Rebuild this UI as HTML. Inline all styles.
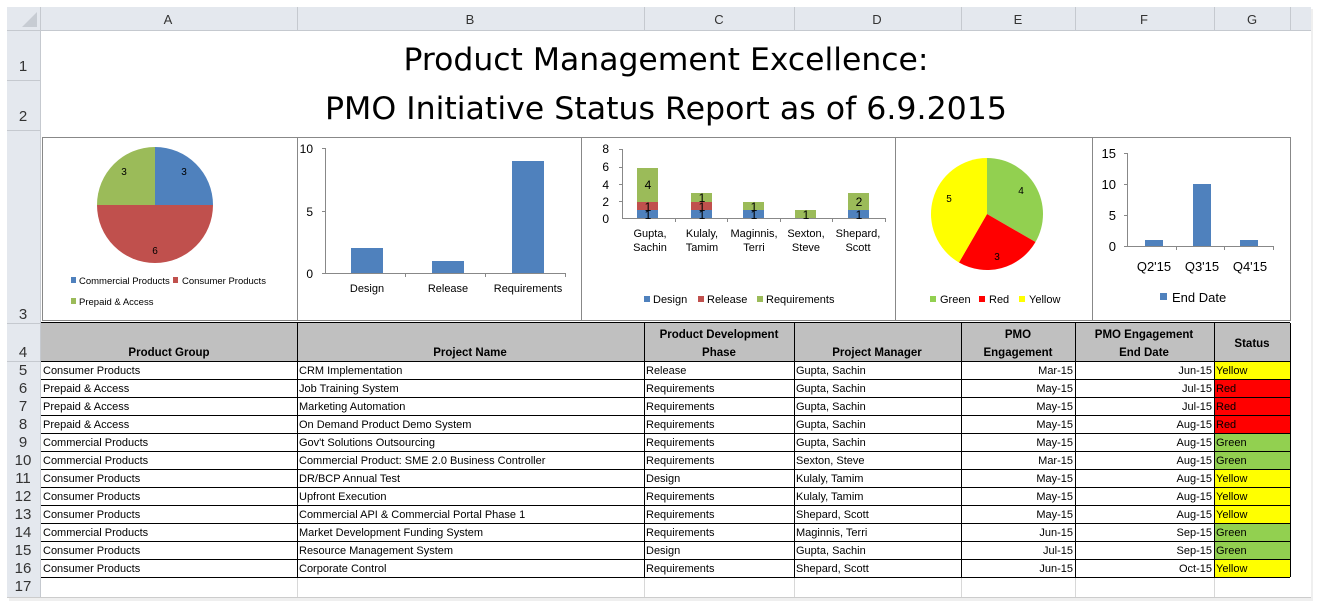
<!DOCTYPE html>
<html><head><meta charset="utf-8"><style>
html,body{margin:0;padding:0;background:#fff;}
svg{display:block;font-family:"Liberation Sans",sans-serif;}
</style></head><body>
<svg width="1319" height="611" viewBox="0 0 1319 611" xmlns="http://www.w3.org/2000/svg">
<rect x="0" y="0" width="1319" height="611" fill="#fff"/>
<rect x="9" y="9" width="1304" height="592" fill="#e0e0e0" opacity="0.5"/>
<rect x="7" y="7" width="1304" height="590" fill="#fff"/>
<!-- column header -->
<rect x="7" y="7" width="1304" height="23" fill="#e4e8ee"/>
<rect x="7" y="7" width="33" height="590" fill="#e4e8ee"/>
<polygon points="37,12 37,27 22,27" fill="#c7ccd3"/>
<g stroke="#c5c9cf" stroke-width="1">
<line x1="297.5" y1="7" x2="297.5" y2="30"/><line x1="644.5" y1="7" x2="644.5" y2="30"/>
<line x1="794.5" y1="7" x2="794.5" y2="30"/><line x1="961.5" y1="7" x2="961.5" y2="30"/>
<line x1="1075.5" y1="7" x2="1075.5" y2="30"/><line x1="1214.5" y1="7" x2="1214.5" y2="30"/>
<line x1="1290.5" y1="7" x2="1290.5" y2="30"/>
<line x1="7" y1="30.5" x2="1311" y2="30.5"/>
<line x1="40.5" y1="7" x2="40.5" y2="597"/>
<line x1="7" y1="80.5" x2="40" y2="80.5"/><line x1="7" y1="130.5" x2="40" y2="130.5"/>
<line x1="7" y1="323.5" x2="40" y2="323.5"/><line x1="7" y1="361.5" x2="40" y2="361.5"/>
</g>
<g font-size="13" fill="#333" text-anchor="middle">
<text x="168" y="24">A</text><text x="470" y="24">B</text><text x="719" y="24">C</text>
<text x="877" y="24">D</text><text x="1018" y="24">E</text><text x="1144" y="24">F</text><text x="1252" y="24">G</text>
</g>
<g font-size="15" fill="#333" text-anchor="middle">
<text x="23" y="71">1</text><text x="23" y="121">2</text><text x="23" y="319">3</text><text x="23" y="357">4</text>
<text x="23" y="375">5</text><text x="23" y="393">6</text><text x="23" y="411">7</text><text x="23" y="429">8</text>
<text x="23" y="447">9</text><text x="23" y="465">10</text><text x="23" y="483">11</text><text x="23" y="501">12</text>
<text x="23" y="519">13</text><text x="23" y="537">14</text><text x="23" y="555">15</text><text x="23" y="573">16</text>
<text x="23" y="591">17</text>
</g>
<!-- title -->
<g font-size="31" fill="#000" text-anchor="middle" font-family="'DejaVu Sans','Liberation Sans',sans-serif">
<text x="666" y="70" textLength="525" lengthAdjust="spacingAndGlyphs">Product Management Excellence:</text>
<text x="666" y="119" textLength="682" lengthAdjust="spacingAndGlyphs">PMO Initiative Status Report as of 6.9.2015</text>
</g>
<!-- chart boxes -->
<g fill="none" stroke="#888" stroke-width="1">
<rect x="42.5" y="137.5" width="1248" height="183"/>
<line x1="297.5" y1="137" x2="297.5" y2="321"/>
<line x1="581.5" y1="137" x2="581.5" y2="321"/>
<line x1="895.5" y1="137" x2="895.5" y2="321"/>
<line x1="1092.5" y1="137" x2="1092.5" y2="321"/>
</g>
<!-- pie 1 -->
<path d="M155,205 L155,147 A58,58 0 0 1 213,205 Z" fill="#4f81bd"/>
<path d="M155,205 L213,205 A58,58 0 0 1 97,205 Z" fill="#c0504d"/>
<path d="M155,205 L97,205 A58,58 0 0 1 155,147 Z" fill="#9bbb59"/>
<g font-size="10" fill="#000" text-anchor="middle"><text x="124" y="175">3</text><text x="184" y="175">3</text><text x="155" y="254">6</text></g>
<g font-size="9.5" fill="#000">
<rect x="71" y="277" width="5" height="6" fill="#4f81bd"/><text x="79" y="284">Commercial Products</text>
<rect x="173" y="277" width="5" height="6" fill="#c0504d"/><text x="182" y="284">Consumer Products</text>
<rect x="71" y="298" width="5" height="6" fill="#9bbb59"/><text x="79" y="305">Prepaid &amp; Access</text>
</g>
<!-- bar chart 2 -->
<g stroke="#888" stroke-width="1" fill="none">
<line x1="325.5" y1="148" x2="325.5" y2="273"/>
<line x1="322" y1="148.5" x2="325" y2="148.5"/><line x1="322" y1="211.5" x2="325" y2="211.5"/><line x1="322" y1="273.5" x2="325" y2="273.5"/>
<line x1="325" y1="273.5" x2="566" y2="273.5"/>
<line x1="405.5" y1="273" x2="405.5" y2="277"/><line x1="485.5" y1="273" x2="485.5" y2="277"/><line x1="565.5" y1="273" x2="565.5" y2="277"/>
</g>
<g font-size="12" fill="#000" text-anchor="end"><text x="313" y="153">10</text><text x="313" y="216">5</text><text x="313" y="278">0</text></g>
<rect x="351" y="248" width="32" height="25" fill="#4f81bd"/>
<rect x="432" y="261" width="32" height="12" fill="#4f81bd"/>
<rect x="512" y="161" width="32" height="112" fill="#4f81bd"/>
<g font-size="11" fill="#000" text-anchor="middle"><text x="367" y="292">Design</text><text x="448" y="292">Release</text><text x="528" y="292">Requirements</text></g>
<!-- stacked -->
<g stroke="#888" stroke-width="1">
<line x1="622.5" y1="149" x2="622.5" y2="218"/>
<line x1="622" y1="218.5" x2="886" y2="218.5"/>
<line x1="619" y1="149.5" x2="622" y2="149.5"/><line x1="619" y1="167.5" x2="622" y2="167.5"/>
<line x1="619" y1="184.5" x2="622" y2="184.5"/><line x1="619" y1="201.5" x2="622" y2="201.5"/>
<line x1="675.5" y1="218" x2="675.5" y2="222"/><line x1="727.5" y1="218" x2="727.5" y2="222"/>
<line x1="780.5" y1="218" x2="780.5" y2="222"/><line x1="832.5" y1="218" x2="832.5" y2="222"/><line x1="885.5" y1="218" x2="885.5" y2="222"/>
</g>
<g font-size="12" fill="#000" text-anchor="end"><text x="609" y="153">8</text><text x="609" y="171">6</text><text x="609" y="189">4</text><text x="609" y="206">2</text><text x="609" y="223">0</text></g>
<rect x="637" y="210" width="21" height="8" fill="#4f81bd"/><rect x="637" y="202" width="21" height="8" fill="#c0504d"/><rect x="637" y="168" width="21" height="34" fill="#9bbb59"/>
<rect x="691" y="210" width="21" height="8" fill="#4f81bd"/><rect x="691" y="202" width="21" height="8" fill="#c0504d"/><rect x="691" y="193" width="21" height="9" fill="#9bbb59"/>
<rect x="743" y="210" width="21" height="8" fill="#4f81bd"/><rect x="743" y="202" width="21" height="8" fill="#9bbb59"/>
<rect x="795" y="210" width="21" height="8" fill="#9bbb59"/>
<rect x="848" y="210" width="21" height="8" fill="#4f81bd"/><rect x="848" y="193" width="21" height="17" fill="#9bbb59"/>
<g font-size="12" fill="#000" text-anchor="middle">
<text x="648" y="189">4</text><text x="648" y="211">1</text><text x="648" y="219">1</text>
<text x="702" y="202">1</text><text x="702" y="211">1</text><text x="702" y="219">1</text>
<text x="754" y="211">1</text><text x="754" y="219">1</text><text x="806" y="219">1</text>
<text x="859" y="206">2</text><text x="859" y="219">1</text>
</g>
<g font-size="11" fill="#000" text-anchor="middle">
<text x="650" y="237">Gupta,</text><text x="650" y="251">Sachin</text>
<text x="702" y="237">Kulaly,</text><text x="702" y="251">Tamim</text>
<text x="754" y="237">Maginnis,</text><text x="754" y="251">Terri</text>
<text x="806" y="237">Sexton,</text><text x="806" y="251">Steve</text>
<text x="858" y="237">Shepard,</text><text x="858" y="251">Scott</text>
</g>
<g font-size="11" fill="#000">
<rect x="644" y="296" width="6" height="6" fill="#4f81bd"/><text x="653" y="303">Design</text>
<rect x="698" y="296" width="6" height="6" fill="#c0504d"/><text x="707" y="303">Release</text>
<rect x="757" y="296" width="6" height="6" fill="#9bbb59"/><text x="766" y="303">Requirements</text>
</g>
<!-- pie 2 -->
<path d="M987,214 L987,158 A56,56 0 0 1 1035.5,242 Z" fill="#92d050"/>
<path d="M987,214 L1035.5,242 A56,56 0 0 1 959,262.5 Z" fill="#ff0000"/>
<path d="M987,214 L959,262.5 A56,56 0 0 1 987,158 Z" fill="#ffff00"/>
<g font-size="10" fill="#000" text-anchor="middle"><text x="1021" y="194">4</text><text x="997" y="260">3</text><text x="949" y="202">5</text></g>
<g font-size="11" fill="#000">
<rect x="930" y="296" width="6" height="6" fill="#92d050"/><text x="940" y="303">Green</text>
<rect x="979" y="296" width="6" height="6" fill="#ff0000"/><text x="989" y="303">Red</text>
<rect x="1019" y="296" width="6" height="6" fill="#ffff00"/><text x="1029" y="303">Yellow</text>
</g>
<!-- bar 3 -->
<g stroke="#888" stroke-width="1">
<line x1="1127.5" y1="153" x2="1127.5" y2="246"/>
<line x1="1124" y1="153.5" x2="1127" y2="153.5"/><line x1="1124" y1="184.5" x2="1127" y2="184.5"/><line x1="1124" y1="215.5" x2="1127" y2="215.5"/>
<line x1="1124" y1="246.5" x2="1274" y2="246.5"/>
<line x1="1176.5" y1="246" x2="1176.5" y2="250"/><line x1="1224.5" y1="246" x2="1224.5" y2="250"/><line x1="1273.5" y1="246" x2="1273.5" y2="250"/>
</g>
<g font-size="13" fill="#000" text-anchor="end"><text x="1116" y="158">15</text><text x="1116" y="189">10</text><text x="1116" y="220">5</text><text x="1116" y="251">0</text></g>
<rect x="1145" y="240" width="18" height="6" fill="#4f81bd"/>
<rect x="1193" y="184" width="18" height="62" fill="#4f81bd"/>
<rect x="1240" y="240" width="18" height="6" fill="#4f81bd"/>
<g font-size="13" fill="#000" text-anchor="middle"><text x="1154" y="271">Q2'15</text><text x="1202" y="271">Q3'15</text><text x="1250" y="271">Q4'15</text></g>
<rect x="1160" y="293" width="7" height="7" fill="#4f81bd"/><text x="1172" y="302" font-size="13" fill="#000">End Date</text>
<!-- table header -->
<rect x="41" y="323" width="1249" height="38" fill="#c0c0c0"/>
<rect x="1214" y="361" width="76" height="216" fill="#fff"/>
<rect x="1215" y="362" width="75" height="17" fill="#ffff00"/>
<rect x="1215" y="380" width="75" height="17" fill="#ff0000"/>
<rect x="1215" y="398" width="75" height="17" fill="#ff0000"/>
<rect x="1215" y="416" width="75" height="17" fill="#ff0000"/>
<rect x="1215" y="434" width="75" height="17" fill="#92d050"/>
<rect x="1215" y="452" width="75" height="17" fill="#92d050"/>
<rect x="1215" y="470" width="75" height="17" fill="#ffff00"/>
<rect x="1215" y="488" width="75" height="17" fill="#ffff00"/>
<rect x="1215" y="506" width="75" height="17" fill="#ffff00"/>
<rect x="1215" y="524" width="75" height="17" fill="#92d050"/>
<rect x="1215" y="542" width="75" height="17" fill="#92d050"/>
<rect x="1215" y="560" width="75" height="17" fill="#ffff00"/>
<g stroke="#000" stroke-width="1">
<line x1="41" y1="322.5" x2="1290" y2="322.5"/>
<line x1="41" y1="361.5" x2="1290" y2="361.5"/>
<line x1="297.5" y1="323" x2="297.5" y2="577"/><line x1="644.5" y1="323" x2="644.5" y2="577"/>
<line x1="794.5" y1="323" x2="794.5" y2="577"/><line x1="961.5" y1="323" x2="961.5" y2="577"/>
<line x1="1075.5" y1="323" x2="1075.5" y2="577"/><line x1="1214.5" y1="323" x2="1214.5" y2="577"/>
<line x1="1290.5" y1="323" x2="1290.5" y2="577"/>
<line x1="41" y1="379.5" x2="1290" y2="379.5"/><line x1="41" y1="397.5" x2="1290" y2="397.5"/>
<line x1="41" y1="415.5" x2="1290" y2="415.5"/><line x1="41" y1="433.5" x2="1290" y2="433.5"/>
<line x1="41" y1="451.5" x2="1290" y2="451.5"/><line x1="41" y1="469.5" x2="1290" y2="469.5"/>
<line x1="41" y1="487.5" x2="1290" y2="487.5"/><line x1="41" y1="505.5" x2="1290" y2="505.5"/>
<line x1="41" y1="523.5" x2="1290" y2="523.5"/><line x1="41" y1="541.5" x2="1290" y2="541.5"/>
<line x1="41" y1="559.5" x2="1290" y2="559.5"/><line x1="41" y1="577.5" x2="1290" y2="577.5"/>
</g>
<g stroke="#d8d8d8"><line x1="297.5" y1="578" x2="297.5" y2="597"/><line x1="644.5" y1="578" x2="644.5" y2="597"/><line x1="794.5" y1="578" x2="794.5" y2="597"/><line x1="961.5" y1="578" x2="961.5" y2="597"/><line x1="1075.5" y1="578" x2="1075.5" y2="597"/><line x1="1214.5" y1="578" x2="1214.5" y2="597"/></g>
<g font-size="11.5" font-weight="bold" fill="#000" text-anchor="middle">
<text x="169" y="356">Product Group</text><text x="470" y="356">Project Name</text>
<text x="719" y="338">Product Development</text><text x="719" y="356">Phase</text>
<text x="877" y="356">Project Manager</text>
<text x="1018" y="338">PMO</text><text x="1018" y="356">Engagement</text>
<text x="1144" y="338">PMO Engagement</text><text x="1144" y="356">End Date</text>
<text x="1252" y="347">Status</text>
</g>
<g font-size="11" fill="#000">
<text x="43" y="374">Consumer Products</text><text x="43" y="392">Prepaid &amp; Access</text><text x="43" y="410">Prepaid &amp; Access</text><text x="43" y="428">Prepaid &amp; Access</text>
<text x="43" y="446">Commercial Products</text><text x="43" y="464">Commercial Products</text><text x="43" y="482">Consumer Products</text><text x="43" y="500">Consumer Products</text>
<text x="43" y="518">Consumer Products</text><text x="43" y="536">Commercial Products</text><text x="43" y="554">Consumer Products</text><text x="43" y="572">Consumer Products</text>
<text x="299" y="374">CRM Implementation</text><text x="299" y="392">Job Training System</text><text x="299" y="410">Marketing Automation</text><text x="299" y="428">On Demand Product Demo System</text>
<text x="299" y="446">Gov't Solutions Outsourcing</text><text x="299" y="464">Commercial Product:  SME 2.0 Business Controller</text><text x="299" y="482">DR/BCP Annual Test</text><text x="299" y="500">Upfront Execution</text>
<text x="299" y="518">Commercial API &amp; Commercial Portal Phase 1</text><text x="299" y="536">Market Development Funding System</text><text x="299" y="554">Resource Management System</text><text x="299" y="572">Corporate Control</text>
<text x="646" y="374">Release</text><text x="646" y="392">Requirements</text><text x="646" y="410">Requirements</text><text x="646" y="428">Requirements</text>
<text x="646" y="446">Requirements</text><text x="646" y="464">Requirements</text><text x="646" y="482">Design</text><text x="646" y="500">Requirements</text>
<text x="646" y="518">Requirements</text><text x="646" y="536">Requirements</text><text x="646" y="554">Design</text><text x="646" y="572">Requirements</text>
<text x="796" y="374">Gupta, Sachin</text><text x="796" y="392">Gupta, Sachin</text><text x="796" y="410">Gupta, Sachin</text><text x="796" y="428">Gupta, Sachin</text>
<text x="796" y="446">Gupta, Sachin</text><text x="796" y="464">Sexton, Steve</text><text x="796" y="482">Kulaly, Tamim</text><text x="796" y="500">Kulaly, Tamim</text>
<text x="796" y="518">Shepard, Scott</text><text x="796" y="536">Maginnis, Terri</text><text x="796" y="554">Gupta, Sachin</text><text x="796" y="572">Shepard, Scott</text>
<text x="1216" y="374">Yellow</text><text x="1216" y="392">Red</text><text x="1216" y="410">Red</text><text x="1216" y="428">Red</text>
<text x="1216" y="446">Green</text><text x="1216" y="464">Green</text><text x="1216" y="482">Yellow</text><text x="1216" y="500">Yellow</text>
<text x="1216" y="518">Yellow</text><text x="1216" y="536">Green</text><text x="1216" y="554">Green</text><text x="1216" y="572">Yellow</text>
</g>
<g font-size="11" fill="#000" text-anchor="end">
<text x="1073" y="374">Mar-15</text><text x="1073" y="392">May-15</text><text x="1073" y="410">May-15</text><text x="1073" y="428">May-15</text>
<text x="1073" y="446">May-15</text><text x="1073" y="464">Mar-15</text><text x="1073" y="482">May-15</text><text x="1073" y="500">May-15</text>
<text x="1073" y="518">May-15</text><text x="1073" y="536">Jun-15</text><text x="1073" y="554">Jul-15</text><text x="1073" y="572">Jun-15</text>
<text x="1212" y="374">Jun-15</text><text x="1212" y="392">Jul-15</text><text x="1212" y="410">Jul-15</text><text x="1212" y="428">Aug-15</text>
<text x="1212" y="446">Aug-15</text><text x="1212" y="464">Aug-15</text><text x="1212" y="482">Aug-15</text><text x="1212" y="500">Aug-15</text>
<text x="1212" y="518">Aug-15</text><text x="1212" y="536">Sep-15</text><text x="1212" y="554">Sep-15</text><text x="1212" y="572">Oct-15</text>
</g>
<line x1="7" y1="597.5" x2="1311" y2="597.5" stroke="#ccc"/>
</svg>
</body></html>
